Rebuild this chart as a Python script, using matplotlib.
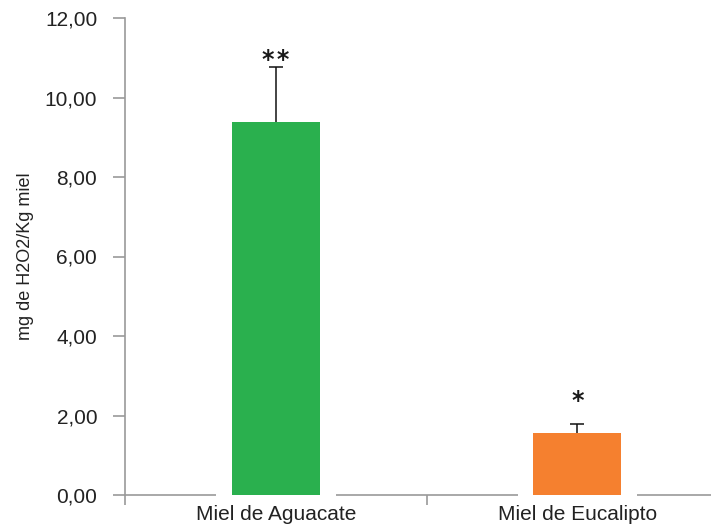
import matplotlib
matplotlib.use("Agg")
import matplotlib.pyplot as plt
from matplotlib.ticker import FuncFormatter, FixedLocator

categories = ["Miel de Aguacate", "Miel de Eucalipto"]
values = [9.38, 1.57]
errors = [1.38, 0.22]
signif = ["*\u200a*", "*"]
colors = ["#2AB04E", "#F5802F"]
yticks = [0, 2, 4, 6, 8, 10, 12]

plt.rcParams['font.family'] = ['Liberation Sans', 'DejaVu Sans']

fig = plt.figure(figsize=(7.11, 5.24), dpi=100)
ax = fig.add_axes([125/711, 1-495/524, 1-125/711, (495-18)/524])

x = list(range(len(categories)))
bw = 0.292
gap = 0.105
capw = 0.047

# white masks to interrupt the baseline around each bar
ax.bar(x, 0.3, bottom=-0.15, width=bw + gap, color='white', zorder=3, clip_on=False)
ax.bar(x, values, width=bw, color=colors, zorder=4)
tops = [v + e for v, e in zip(values, errors)]
ax.vlines(x, values, tops, color='#111111', linewidth=1.1, zorder=5)
ax.hlines(tops, [xi - capw/2 for xi in x], [xi + capw/2 for xi in x],
          color='#111111', linewidth=1.1, zorder=5)

offsets = [0, 11.5]
for xi, t, s, o in zip(x, tops, signif, offsets):
    ax.annotate(s, (xi, t), xytext=(0, o), textcoords='offset points',
                ha='center', va='baseline', fontsize=17, fontweight='bold',
                family='DejaVu Sans', color='#1a1a1a', zorder=6)

ax.set_xlim(-0.5, 1.443)
ax.set_ylim(0, 12)
ax.set_yticks(yticks)
ax.yaxis.set_major_formatter(FuncFormatter(lambda v, p: f"{v:.2f}".replace('.', ',')))
ax.set_xticks(x)
ax.set_xticklabels(categories)
ax.xaxis.set_minor_locator(FixedLocator([-0.5, 0.5, 1.5]))

for sp in ['top', 'right']:
    ax.spines[sp].set_visible(False)
for sp in ['left', 'bottom']:
    ax.spines[sp].set_color('#9a9a9a')
    ax.spines[sp].set_linewidth(1.2)

ax.tick_params(axis='y', direction='out', length=9, width=1.2, color='#9a9a9a',
               pad=11, labelsize=15, labelcolor='#222222')
ax.tick_params(axis='x', which='major', length=0, pad=7, labelsize=15, labelcolor='#222222')
ax.tick_params(axis='x', which='minor', direction='out', length=7, width=1.2, color='#9a9a9a')

ax.set_ylabel("mg de H2O2/Kg miel", fontsize=13, color='#222222')
ax.yaxis.set_label_coords(-0.155, 0.5)

fig.savefig("out.png", dpi=100)
